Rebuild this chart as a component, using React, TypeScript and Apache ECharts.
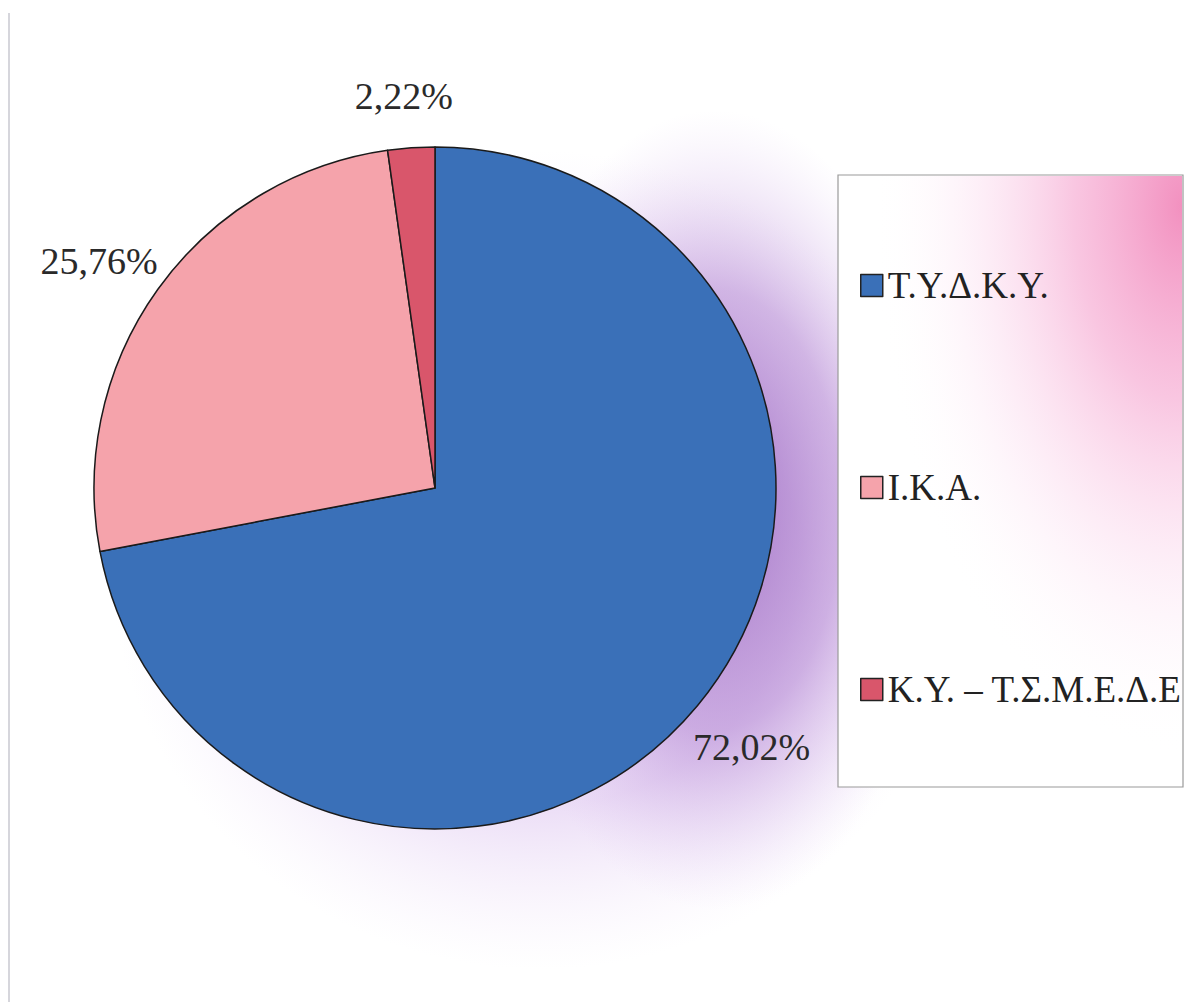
import React, { useEffect, useRef } from "react";
import * as echarts from "echarts";

const categories = ["Τ.Υ.Δ.Κ.Υ.", "Ι.Κ.Α.", "Κ.Υ. – Τ.Σ.Μ.Ε.Δ.Ε"];
const values = [72.02, 25.76, 2.22];
const colors = ["#3a70b8", "#f5a3ab", "#d9566b"];
const labelDx = [-25, 21, 48];
const labelDy = [29, -17, -32];

export default function App() {
  const ref = useRef<HTMLDivElement>(null);
  useEffect(() => {
    if (!ref.current) return;
    const chart = echarts.init(ref.current, null, { renderer: "svg" });
    const font = "'Liberation Serif', 'DejaVu Serif', serif";
    chart.setOption({
      animation: false,
      backgroundColor: "#ffffff",
      graphic: [
        {
          type: "ellipse",
          z: -20,
          shape: { cx: 715, cy: 510, rx: 230, ry: 400 },
          style: {
            fill: new echarts.graphic.RadialGradient(0.5, 0.5, 0.5, [
              { offset: 0, color: "rgba(145,90,185,0.8)" },
              { offset: 0.55, color: "rgba(170,120,205,0.5)" },
              { offset: 1, color: "rgba(220,190,240,0)" },
            ]),
          },
        },
        {
          type: "ellipse",
          z: -21,
          shape: { cx: 540, cy: 560, rx: 430, ry: 410 },
          style: {
            fill: new echarts.graphic.RadialGradient(0.5, 0.5, 0.5, [
              { offset: 0.6, color: "rgba(200,160,230,0.35)" },
              { offset: 1, color: "rgba(230,210,245,0)" },
            ]),
          },
        },
        {
          type: "rect",
          z: -10,
          shape: { x: 838, y: 175, width: 345, height: 612 },
          style: { fill: "#ffffff", stroke: "#9a9a9a", lineWidth: 1.2 },
        },
        {
          type: "rect",
          z: -9,
          shape: { x: 839, y: 176, width: 343, height: 610 },
          style: {
            fill: new echarts.graphic.RadialGradient(1.0, 0.05, 0.9, [
              { offset: 0, color: "rgba(240,125,180,0.85)" },
              { offset: 0.35, color: "rgba(245,160,205,0.6)" },
              { offset: 0.7, color: "rgba(250,210,235,0.28)" },
              { offset: 1, color: "rgba(255,255,255,0)" },
            ]),
          },
        },
        {
          type: "line",
          shape: { x1: 9, y1: 13, x2: 9, y2: 1002 },
          style: { stroke: "#c8c8d0", lineWidth: 1.5 },
        },
      ],
      legend: {
        orient: "vertical",
        left: 855,
        top: 262,
        itemGap: 165,
        itemWidth: 22,
        itemHeight: 22,
        icon: "rect",
        data: categories,
        textStyle: { fontFamily: font, fontSize: 37, color: "#222" },
        itemStyle: { borderColor: "#222", borderWidth: 1.5 },
      },
      series: [
        {
          type: "pie",
          center: [435, 488],
          radius: 341,
          startAngle: 90,
          clockwise: true,
          avoidLabelOverlap: false,
          data: categories.map((c, i) => ({
            name: c,
            value: values[i],
            itemStyle: { color: colors[i] },
          })),
          itemStyle: { borderColor: "#1a1a1a", borderWidth: 1.5 },
          label: {
            show: true,
            position: "outside",
            formatter: (p: any) => p.value.toFixed(2).replace(".", ",") + "%",
            fontFamily: font,
            fontSize: 38,
            color: "#2a2a2a",
          },
          labelLine: { show: false, length: 20, length2: 0 },
          labelLayout: (p: any) => ({ dx: labelDx[p.dataIndex], dy: labelDy[p.dataIndex] }),
          emphasis: { disabled: true },
        },
      ],
    });
    return () => chart.dispose();
  }, []);
  return (
    <div
      ref={ref}
      style={{ position: "absolute", left: 0, top: 0, width: 1197, height: 1002 }}
    />
  );
}
